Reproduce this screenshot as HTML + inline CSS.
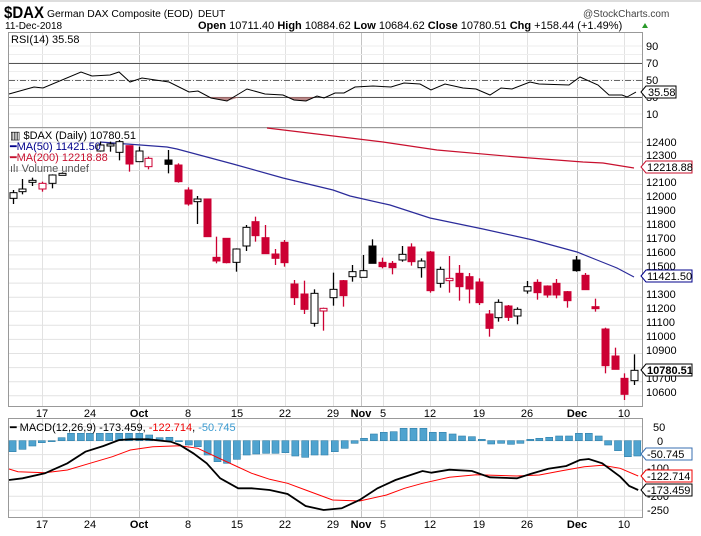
<!DOCTYPE html>
<html><head><meta charset="utf-8"><style>
html,body{margin:0;padding:0;background:#fff;}
svg{display:block;font-family:"Liberation Sans",sans-serif;}
</style></head><body>
<svg id="s" width="701" height="536" viewBox="0 0 701 536" xmlns="http://www.w3.org/2000/svg">
<rect x="0" y="0" width="701" height="536" fill="#fff"/>
<rect x="0" y="0" width="701" height="2" fill="#ddd"/>
<g id="grid"></g>
<rect x="8.5" y="32.5" width="634" height="95" fill="none" stroke="#999"/>
<rect x="8.5" y="127.5" width="634" height="279" fill="none" stroke="#999"/>
<rect x="8.5" y="418.5" width="634" height="99" fill="none" stroke="#999"/>
<line x1="9" y1="63.5" x2="642" y2="63.5" stroke="#555"/>
<line x1="9" y1="97.5" x2="642" y2="97.5" stroke="#555"/>
<line x1="9" y1="80.5" x2="642" y2="80.5" stroke="#666" stroke-dasharray="6,2,1,2"/>
<g id="shapes"></g>
<text x="4" y="18" font-size="17" font-weight="bold" fill="#000" textLength="40" lengthAdjust="spacingAndGlyphs">$DAX</text>
<text x="47" y="17" font-size="10" fill="#000" textLength="146" lengthAdjust="spacingAndGlyphs">German DAX Composite (EOD)</text>
<text x="198" y="17" font-size="10" fill="#000">DEUT</text>
<text x="583" y="17" font-size="10" fill="#444">@StockCharts.com</text>
<text x="5" y="29" font-size="10" fill="#000">11-Dec-2018</text>
<text x="198" y="29" font-size="11" fill="#000"><tspan font-weight="bold">Open</tspan> 10711.40 <tspan font-weight="bold">High</tspan> 10884.62 <tspan font-weight="bold">Low</tspan> 10684.62 <tspan font-weight="bold">Close</tspan> 10780.51 <tspan font-weight="bold">Chg</tspan> +158.44 (+1.49%)</text>
<polygon points="642,28 648,28 645,23" fill="#2a9a2a"/>
<text x="11" y="43" font-size="11" fill="#000">RSI(14) 35.58</text>
<g font-size="11" fill="#000">
<text x="646" y="50">90</text><text x="646" y="67">70</text><text x="646" y="84">50</text><text x="646" y="101">30</text><text x="646" y="118">10</text>
</g>
<polygon points="641,92 646,86 676,86 676,98 646,98" fill="#fff" stroke="#000"/>
<text x="648" y="96" font-size="11" fill="#000">35.58</text>
<g font-size="11">
<text x="10" y="139" fill="#000">▥ $DAX (Daily) 10780.51</text>
<text x="10" y="150" fill="#00008b">━MA(50) 11421.50</text>
<text x="10" y="161" fill="#c8102e">━MA(200) 12218.88</text>
<text x="10" y="172" fill="#555">ılı Volume undef</text>
</g>
<g font-size="11" fill="#000">
<text x="646" y="146">12400</text><text x="646" y="159">12300</text>
<text x="646" y="186">12100</text><text x="646" y="200">12000</text><text x="646" y="214">11900</text>
<text x="646" y="228">11800</text><text x="646" y="242">11700</text><text x="646" y="256">11600</text>
<text x="646" y="270">11500</text><text x="646" y="298">11300</text><text x="646" y="312">11200</text>
<text x="646" y="326">11100</text><text x="646" y="340">11000</text><text x="646" y="354">10900</text>
<text x="646" y="382">10700</text><text x="646" y="396">10600</text>
</g>
<polygon points="641,167 646,161 692,161 692,173 646,173" fill="#fff" stroke="#c8102e"/>
<text x="647" y="171" font-size="11" fill="#000">12218.88</text>
<polygon points="641,276 646,270 692,270 692,282 646,282" fill="#fff" stroke="#00008b"/>
<text x="647" y="280" font-size="11" fill="#000">11421.50</text>
<polygon points="641,370 646,364 692,364 692,376 646,376" fill="#fff" stroke="#000"/>
<text x="647" y="374" font-size="11" font-weight="bold" fill="#000">10780.51</text>
<g font-size="11" fill="#000" text-anchor="middle">
<text x="42" y="417">17</text><text x="90" y="417">24</text><text x="139" y="417" font-weight="bold">Oct</text>
<text x="188" y="417">8</text><text x="237" y="417">15</text><text x="285" y="417">22</text><text x="333" y="417">29</text>
<text x="361" y="417" font-weight="bold">Nov</text><text x="383" y="417">5</text><text x="430" y="417">12</text>
<text x="479" y="417">19</text><text x="527" y="417">26</text><text x="577" y="417" font-weight="bold">Dec</text><text x="624" y="417">10</text>
<text x="42" y="528">17</text><text x="90" y="528">24</text><text x="139" y="528" font-weight="bold">Oct</text>
<text x="188" y="528">8</text><text x="237" y="528">15</text><text x="285" y="528">22</text><text x="333" y="528">29</text>
<text x="361" y="528" font-weight="bold">Nov</text><text x="383" y="528">5</text><text x="430" y="528">12</text>
<text x="479" y="528">19</text><text x="527" y="528">26</text><text x="577" y="528" font-weight="bold">Dec</text><text x="624" y="528">10</text>
</g>
<text x="10" y="431" font-size="11" fill="#000">━ MACD(12,26,9) -173.459, <tspan fill="#e00">-122.714</tspan>, <tspan fill="#3a9ad0">-50.745</tspan></text>
<g font-size="11" fill="#000">
<text x="653" y="431">50</text><text x="657" y="445">0</text><text x="647" y="472">-100</text><text x="647" y="500">-200</text><text x="647" y="514">-250</text>
</g>
<polygon points="641,454 646,448 692,448 692,460 646,460" fill="#fff" stroke="#3a6fb0"/>
<text x="647" y="458" font-size="11" fill="#000">-50.745</text>
<polygon points="641,476 646,470 692,470 692,482 646,482" fill="#fff" stroke="#e00"/>
<text x="647" y="480" font-size="11" fill="#000">-122.714</text>
<polygon points="641,490 646,484 692,484 692,496 646,496" fill="#fff" stroke="#000"/>
<text x="647" y="494" font-size="11" fill="#000">-173.459</text>
</svg>
<script>
(function(){
var NS="http://www.w3.org/2000/svg";
var g=document.getElementById('grid'), s=document.getElementById('shapes');
function el(p,t,a){var e=document.createElementNS(NS,t);for(var k in a)e.setAttribute(k,a[k]);p.appendChild(e);return e;}
var vx=[42,90,139,188,237,285,333,361,383,430,479,527,577,624];
vx.forEach(function(x){var dark=(x==139||x==361||x==577);
 [[33,127],[128,406],[419,517]].forEach(function(r){el(g,'line',{x1:x+.5,x2:x+.5,y1:r[0],y2:r[1],stroke:dark?'#c4c4c4':'#e2e2e2'});});});
for(var p=12500;p>=10500;p-=100){var y=142.3+(12400-p)*0.1408;if(y>128&&y<406)el(g,'line',{x1:9,x2:642,y1:y.toFixed(1),y2:y.toFixed(1),stroke:'#e2e2e2'});}
for(var v=10;v<=90;v+=10){var y=97-(v-30)*0.85;el(g,'line',{x1:9,x2:642,y1:y,y2:y,stroke:'#eee'});}
for(var v=50;v>=-250;v-=50){var y=440.7-v*0.278;el(g,'line',{x1:9,x2:642,y1:y,y2:y,stroke:'#e2e2e2'});}
var r=[[9,94],[34,87],[43,88],[81,72],[92,76],[110,75],[119,72],[130,82],[142,78],[169,82],[189,92],[198,91],[211,98],[227,101],[247,89],[265,94],[283,95],[294,100],[306,101],[317,96],[324,98],[335,93],[344,93],[355,87],[373,86],[391,87],[404,83],[420,84],[431,90],[445,84],[463,88],[476,89],[490,95],[501,88],[512,89],[530,82],[539,84],[569,85],[580,77],[598,85],[609,95],[622,95],[627,97],[636,92]];
el(s,'path',{d:'M205,97 L211,98 L227,101 L240,97 Z',fill:'#a86a6a',opacity:.8});
el(s,'path',{d:'M288,97 L294,100 L306,101 L314,97 Z',fill:'#a86a6a',opacity:.8});
el(s,'polyline',{points:r.map(function(a){return a.join(',')}).join(' '),fill:'none',stroke:'#000','stroke-width':1});
el(s,'polyline',{points:'267,128 350,138 383,142 437,150 517,157 583,162 603,163 634,168',fill:'none',stroke:'#c8102e','stroke-width':1.2});
el(s,'polyline',{points:'100,142 167,147 177,149 233,164 283,178 333,190 350,196 390,205 430,218 483,229 533,240 577,252 597,260 617,268 634,277',fill:'none',stroke:'#2b2b9a','stroke-width':1.2});
var A=[[38,203,220,195,237,'w'],[67,192,200,162,208,'w'],[97,166,172,158,183,'w'],[125,175,192,170,200,'rh'],[155,150,175,148,190,'w'],[185,145,148,142,150,'w'],[300,60,78,50,80,'w'],[330,57,60,50,80,'w'],[357,50,82,45,106,'w'],[388,62,117,62,140,'r'],[418,78,110,65,110,'w'],[445,100,125,95,133,'rh'],[505,105,118,75,145,'k'],[535,120,170,115,173,'r'],[563,195,237,187,242,'r'],[592,222,230,213,297,'w'],[620,222,335,222,335,'r'],[648,397,408,335,415,'r'],[678,340,413,340,415,'r'],[708,372,412,370,440,'w'],[737,307,363,300,378,'w'],[766,290,332,275,350,'r'],[796,338,386,300,386,'r'],[825,387,400,372,420,'r'],[852,352,413,345,425,'r'],[883,477,518,465,540,'r'],[912,507,553,467,567,'r'],[942,505,595,493,605,'w'],[970,550,558,548,617,'rh'],[1000,493,518,443,542,'w'],[1030,467,512,465,545,'r']];
var B=[[5,440,455,420,470,'w'],[38,437,457,390,457,'w'],[65,363,415,343,415,'k'],[96,412,425,398,430,'r'],[125,415,428,408,448,'r'],[155,388,405,363,410,'w'],[183,366,410,355,422,'r'],[212,408,428,400,458,'w'],[241,381,497,378,503,'r'],[270,433,475,425,488,'w'],[298,460,467,393,503,'rh'],[328,445,485,420,527,'r'],[358,455,492,444,535,'r'],[387,471,533,460,540,'r'],[416,567,610,555,635,'r'],[445,532,578,523,590,'w'],[474,543,577,540,588,'r'],[502,553,573,547,598,'w'],[532,485,498,468,506,'w'],[562,472,503,463,524,'r'],[591,483,510,481,518,'r'],[619,475,510,462,520,'r'],[650,500,527,498,548,'r'],[678,405,437,393,440,'k'],[706,451,494,444,494,'r'],[736,545,550,521,560,'r'],[766,612,722,608,745,'r'],[795,693,733,668,733,'r'],[823,760,808,745,825,'r'],[853,736,767,688,780,'w']];
function cand(x,bt,bb,wt,wb,t){
 var red='#cc0033';var col=(t=='r'||t=='rh')?red:'#000';
 x=Math.round(x)+.5;
 el(s,'line',{x1:x,x2:x,y1:wt,y2:wb,stroke:col,'stroke-width':1.3});
 var h=Math.max(bb-bt,2);
 var fill=(t=='r')?red:(t=='k')?'#000':'#fff';
 el(s,'rect',{x:x-3.5,y:bt,width:7,height:h,fill:fill,stroke:col,'stroke-width':1});
}
A.forEach(function(c){cand(c[0]/3,125+c[1]/3,125+c[2]/3,125+c[3]/3,125+c[4]/3,c[5]);});
B.forEach(function(c){cand(350+c[0]/3,125+c[1]/3,125+c[2]/3,125+c[3]/3,125+c[4]/3,c[5]);});
var H=[[28,155],[50,148],[72,138],[93,128],[115,123],[137,113],[158,100],[180,100],[200,100],[222,100],[243,100],[265,100],[287,100],[310,100],[332,105],[355,113],[377,112],[398,125],[420,135],[440,140],[462,165],[484,185],[505,190],[527,178],[549,165],[570,162],[592,160],[613,160],[635,158],[657,168],[679,172],[700,165],[722,165],[745,155],[767,145],[789,130],[810,115],[832,102],[854,97],[876,95],[898,85],[920,85],[942,85],[963,97],[985,97],[1007,102],[1028,108],[1050,110],[1072,118],[1093,132],[1115,130],[1137,133],[1158,130],[1180,118],[1200,115],[1222,112],[1244,108],[1266,108],[1288,100],[1310,100],[1332,108],[1353,135],[1375,152],[1397,170],[1418,168]];
H.forEach(function(h){var x=h[0]/2.225,y=400+h[1]/3,b=440.7;var t=Math.min(y,b),hh=Math.abs(y-b);
 el(s,'rect',{x:(x-3.5).toFixed(1),y:t.toFixed(1),width:7,height:Math.max(hh,1).toFixed(1),fill:'#4fa3cf',stroke:'#2f7fa8','stroke-width':.6});});
function pl(arr,c,w){el(s,'polyline',{points:arr.map(function(a){return Math.max(a[0]/2.225,9).toFixed(1)+','+(400+a[1]/3).toFixed(1)}).join(' '),fill:'none',stroke:c,'stroke-width':w});}
pl([[0,207],[40,215],[100,218],[150,210],[200,190],[250,170],[290,150],[340,140],[400,137],[440,145],[480,170],[520,195],[560,220],[600,238],[640,250],[680,270],[740,300],[800,303],[860,285],[900,265],[940,250],[1000,232],[1060,224],[1150,228],[1200,225],[1250,212],[1300,200],[1340,196],[1380,205],[1420,228]],'#f00',1);
pl([[0,240],[50,235],[100,220],[150,190],[190,155],[230,138],[265,120],[290,118],[330,118],[380,125],[400,135],[430,160],[460,190],[490,235],[530,265],[560,265],[600,270],[640,282],[680,318],[720,330],[760,325],[800,300],[840,265],[880,240],[940,213],[960,218],[1000,209],[1050,213],[1090,232],[1150,235],[1180,222],[1220,206],[1260,198],[1290,180],[1310,177],[1340,190],[1380,230],[1400,258],[1420,270]],'#000',1.8);
})();
</script>
</body></html>
